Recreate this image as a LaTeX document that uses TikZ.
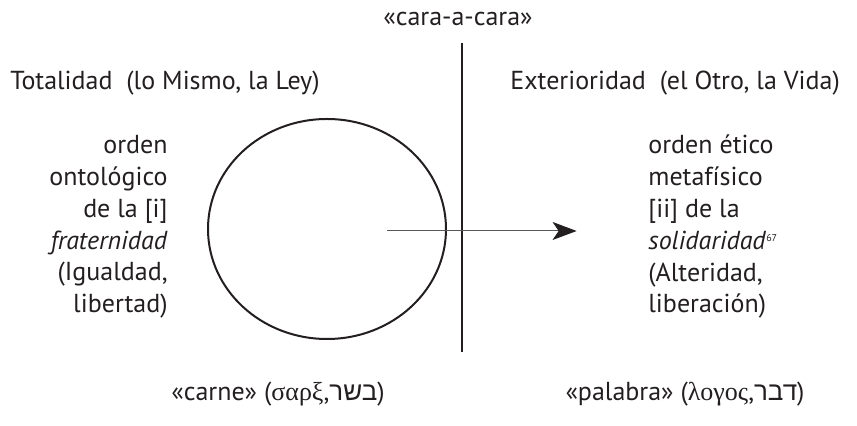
\documentclass[tikz,border=0pt]{standalone}
\usepackage{fontspec}
\setmainfont{PT Sans}
\newfontfamily\greekfont{Liberation Serif}
\newfontfamily\hebrewfont[Script=Hebrew]{Liberation Sans}
\TeXXeTstate=1
\usetikzlibrary{arrows.meta, shapes.geometric}
\definecolor{ink}{RGB}{35,31,32}

\begin{document}
\begin{tikzpicture}[
    x=0.5pt, y=-0.5pt,
    font=\fontsize{13}{15.9}\selectfont,
    txt/.style={text=ink, inner sep=0pt},
    block/.style={txt, anchor=center}
  ]
    \useasboundingbox (0,0) rectangle (857,426);

    %% --- Heads ---
    \node[txt] (cara) at (458, 19) {«cara-a-cara»};
    \node[txt, anchor=west] (total) at (10, 83) {Totalidad\ \ (lo Mismo, la Ley)};
    \node[txt, anchor=west] (exter) at (510, 83) {Exterioridad\ \ (el Otro, la Vida)};

    %% --- Line and circle ---
    \coordinate (top) at (462, 43);
    \coordinate (bot) at (462, 352);
    \draw[ink, line width=1.25pt] (top) -- (bot);
    \node[draw=ink, line width=1pt, ellipse, minimum width=119pt,
          minimum height=110pt, inner sep=0pt] (mismo) at (327, 229) {};

    %% --- Blocks ---
    \node[block, anchor=east, align=right] (left) at (168, 227) {%
      orden\\
      ontológico\\
      de la [i]\\
      \textit{fraternidad}\\
      (Igualdad,\\
      libertad)};
    \node[block, anchor=west, align=left] (right) at (648, 227) {%
      orden ético\\
      metafísico\\
      {[ii]} de la\\
      \textit{solidaridad}\raisebox{0.6ex}{\fontsize{5}{5}\selectfont 67}\\
      (Alteridad,\\
      liberación)};

    %% --- Arrow ---
    \coordinate (from) at (387, 231);
    \node[inner sep=0pt] (to) at (578, 231) {};
    \draw[ink!75, line width=0.5pt,
          -{Stealth[length=12pt, width=9pt, inset=3pt, color=ink]}]
      (from) -- (to);

    %% --- Bottom ---
    \node[txt] (carne) at (278, 394) {«carne» ({\greekfont σαρξ},{\hebrewfont\beginR בשר\endR})};
    \node[txt] (palabra) at (685, 394) {«palabra» ({\greekfont λογος},{\hebrewfont\beginR דבר\endR})};
  \end{tikzpicture}
\end{document}
